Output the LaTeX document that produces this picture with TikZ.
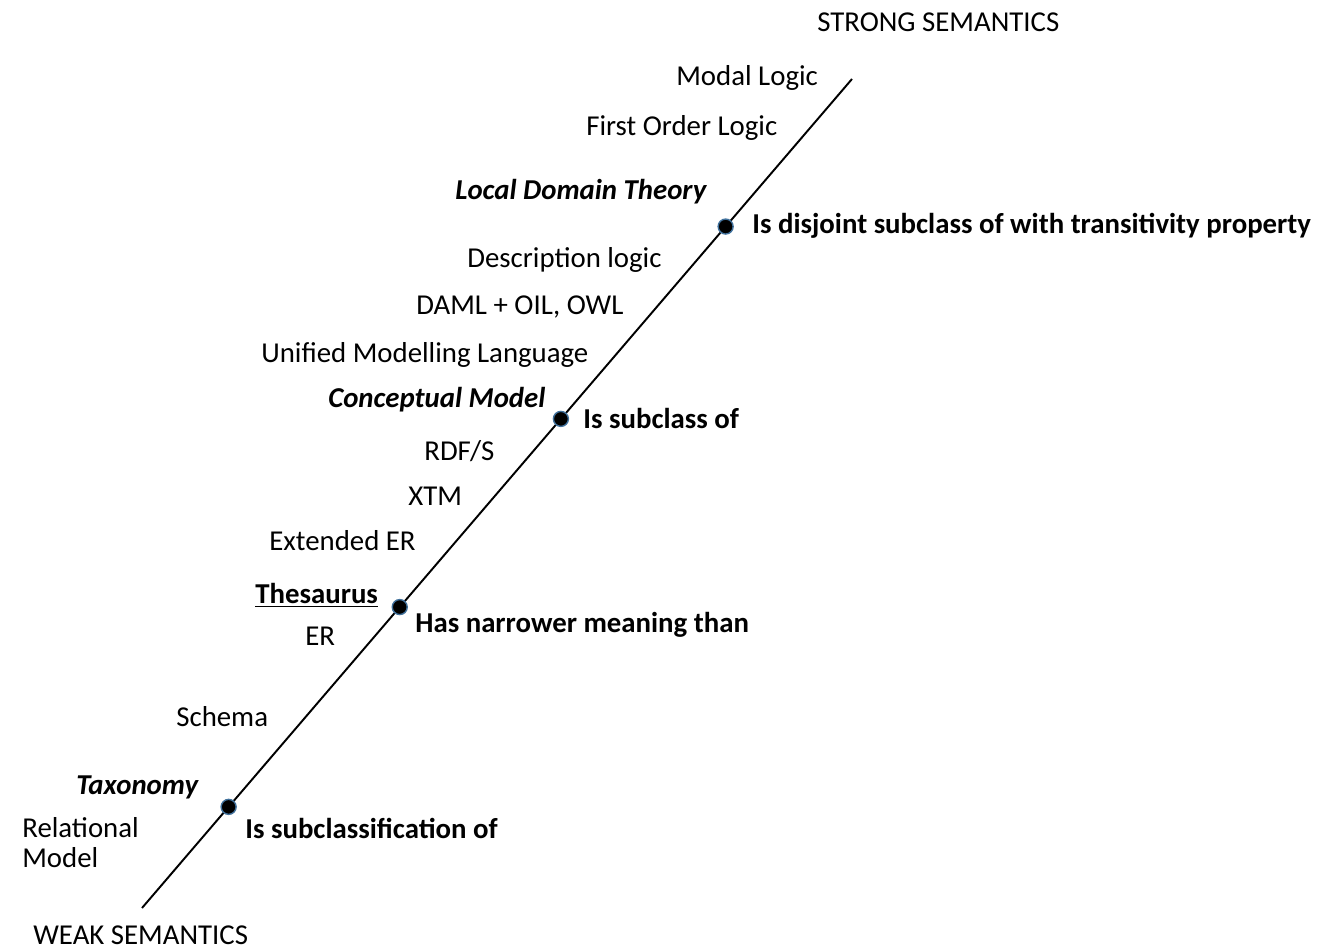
\documentclass[tikz,border=0pt]{standalone}
\usepackage{fontspec}
\setmainfont{Carlito}
\definecolor{dotrim}{HTML}{41719C}
\begin{document}
\begin{tikzpicture}[x=0.02cm, y=-0.02cm,
    lbl/.style={inner sep=0, anchor=west, font=\fontsize{16.4}{17}\selectfont},
    rel/.style={lbl, font=\fontsize{16.4}{17}\selectfont\bfseries},
    key/.style={lbl, font=\fontsize{16.4}{17}\selectfont\bfseries\itshape},
    level/.style={circle, fill=black, draw=dotrim, line width=0.8pt, minimum size=0.3cm, inner sep=0}]
    \useasboundingbox (0,0) rectangle (1326,950);

    % Axe des sémantiques
    \coordinate (weak) at (142,908);
    \coordinate (strong) at (852,79);
    \draw[line width=1.1pt] (weak) -- (strong);

    % Niveaux sur l'axe
    \path (weak) -- (strong)
        node[level, pos=0.122] (taxo) {}
        node[level, pos=0.363] (thes) {}
        node[level, pos=0.590] (concept) {}
        node[level, pos=0.822] (ldt) {};

    % Extrémités
    \node[lbl] (strongtxt) at (817,22) {STRONG SEMANTICS};
    \node[lbl] (weaktxt) at (33,935) {WEAK SEMANTICS};

    % Langages
    \node[lbl] (modal) at (676,78) {Modal Logic};
    \node[lbl] (fol) at (586,128) {First Order Logic};
    \node[key] (ldttxt) at (455,192) {Local Domain Theory};
    \node[lbl] (dl) at (467,260) {Description logic};
    \node[lbl] (daml) at (416,307) {DAML + OIL, OWL};
    \node[lbl] (uml) at (261,355) {Unified Modelling Language};
    \node[key] (concepttxt) at (328,400) {Conceptual Model};
    \node[lbl] (rdfs) at (424,451) {RDF/S};
    \node[lbl] (xtm) at (408,496) {XTM};
    \node[lbl] (eer) at (269,541) {Extended ER};
    \node[rel] (thestxt) at (255,595) {\underline{Thesaurus}};
    \node[lbl] (er) at (305,636) {ER};
    \node[lbl] (schema) at (176,717) {Schema};
    \node[key] (taxotxt) at (76,787) {Taxonomy};
    \node[lbl, align=left] (relmodel) at (22,843) {Relational\\Model};

    % Relations
    \node[rel] (rldt) at (752,226) {Is disjoint subclass of with transitivity property};
    \node[rel] (rconcept) at (583,418) {Is subclass of};
    \node[rel] (rthes) at (415,625) {Has narrower meaning than};
    \node[rel] (rtaxo) at (245,828) {Is subclassification of};
\end{tikzpicture}
\end{document}
